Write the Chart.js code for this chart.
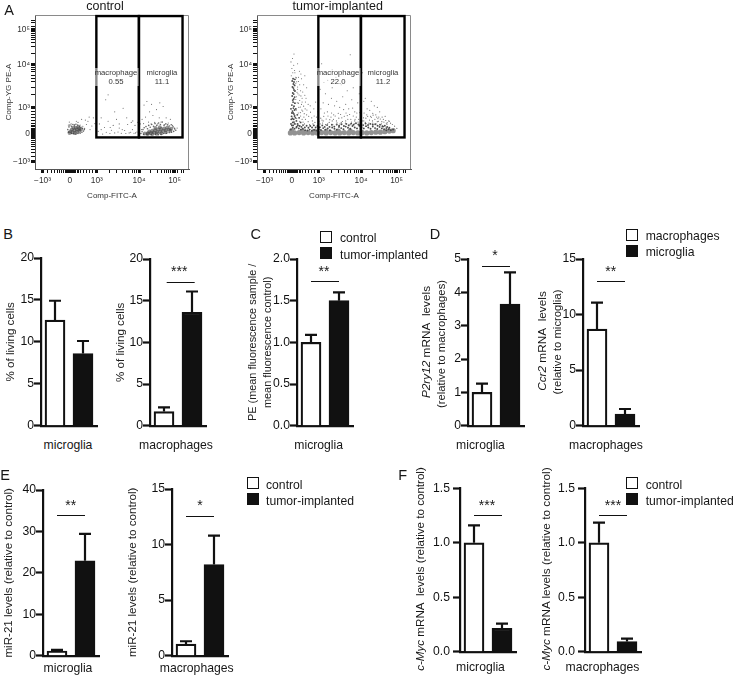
<!DOCTYPE html>
<html>
<head>
<meta charset="utf-8">
<title>Flow cytometry and mRNA panels</title>
<script src="https://cdn.jsdelivr.net/npm/chart.js@4"></script>
<style>
  html, body { margin: 0; padding: 0; background: #fff; }
  #page { position: relative; width: 736px; height: 676px; overflow: hidden; font-family: "Liberation Sans", Arial, sans-serif; color: #151515; }
  canvas { position: absolute; }
  canvas.flow { filter: blur(0.35px); }
  .txt { position: absolute; white-space: nowrap; line-height: 1; opacity: 0.99; }
  .box { position: absolute; width: 10px; height: 10px; border: 1.5px solid #111; background: #fff; }
  .box.dark { background: #111; }
</style>
</head>
<body>
<div id="page"></div>
<script>
// channels on the flow plots (display scale 0-1024)
const flowTicks = [50, 232, 411, 692, 928];
const flowTickLabels = ["−10³", "0", "10³", "10⁴", "10⁵"];
const flowMinor = [85, 110, 130, 150, 165, 178, 190, 200, 206, 212, 218, 224, 238, 244, 250, 256, 262, 270, 280, 292, 305, 320, 340, 360, 385,
  495, 545, 580, 605, 625, 645, 662, 678, 770, 812, 840, 860, 875, 888, 900, 915, 950, 972, 990];
const gateLeft = [408, 691, 210, 1017];
const gateRight = [691, 981, 210, 1017];

const controlDense = [[235,250],[250,245],[265,240],[280,248],[295,252],[245,262],[262,258],[278,262],[295,268],[255,274],[272,275],[288,280],[230,240],[305,262],
  [730,236],[750,238],[770,240],[790,242],[810,245],[830,248],[850,252],[870,258],[890,262],[905,268],[760,250],[780,254],[800,258],[820,262],[840,266],[860,270],[880,276],[800,272],[830,278],[750,232],[780,232],[810,234],[840,238],[870,244],[900,255]];
const controlHalo = [[218,262],[222,245],[226,280],[232,292],[242,284],[252,296],[262,288],[272,298],[284,292],[296,284],[306,278],[316,270],[322,252],[328,262],[312,244],[300,238],[286,236],[272,232],[258,234],[244,236],
  [704,236],[712,248],[718,262],[726,274],[738,282],[748,268],[756,290],[766,278],[776,296],[788,284],[798,302],[810,290],[822,306],[834,296],[846,312],[858,290],[870,300],[882,294],[894,286],[906,294],[918,280],[928,270],[936,258],[922,250],[908,244],[892,242],[874,238],[856,236],[838,230],[820,228],[800,230],[772,228],[744,228],[722,230]];
const controlSparse = [[222,292],[240,300],[262,296],[286,310],[300,292],[318,284],[330,270],[342,296],[352,318],[366,262],[378,286],[388,340],[398,302],[405,268],[360,345],[335,325],[310,330],[275,318],[228,312],[420,250],[428,300],[440,262],[450,232],[462,276],[474,244],[486,318],[498,236],[508,258],[520,290],[530,240],[542,330],[552,246],[560,272],[574,238],[586,404],[596,256],[604,236],[616,296],[626,240],[636,244],[648,262],[658,238],[668,240],[678,246],[684,310],[700,300],[708,262],[712,330],[722,302],[735,345],[744,449],[755,312],[762,380],[772,300],[784,356],[796,310],[808,395],[816,300],[826,340],[838,312],[852,416],[860,296],[872,340],[886,306],[900,330],[915,290],[930,262],[945,272],[725,425],[775,430],[830,440],[486,493],[470,460],[610,340],[650,320],[560,300],[440,340],[530,380],[690,270],[665,290],[640,310],[500,276],[580,262]];

const tumorBand = [[222,240],[250,240],[280,242],[310,240],[340,242],[370,240],[400,240],[430,242],[460,240],[490,242],[520,240],[550,240],[580,242],[610,240],[640,242],[670,240],[700,242],[730,240],[760,242],[790,245],[820,245],[850,248],[880,252],[905,255],[230,256],[300,252],[380,250],[460,250],[540,252],[620,252]];
const tumorDark = [[225,262],[238,275],[250,268],[264,282],[278,270],[292,262],[305,268],[320,258],[335,256],[350,262],[365,254],[380,260],[395,256],[410,265],[425,260],[440,272],[455,262],[470,270],[485,258],[500,276],[515,268],[530,262],[545,280],[560,272],[575,265],[590,282],[605,274],[620,268],[635,286],[650,276],[665,270],[680,288],[695,278],[710,270],[725,285],[740,276],[755,268],[770,282],[785,272],[800,266],[815,280],[830,270],[845,264],[860,272],[875,264],[890,258],[905,262],[880,274],[860,258],[838,282],
  [232,290],[238,310],[244,330],[230,350],[246,365],[236,385],[242,405],[232,425],[240,445],[244,465],[234,485],[238,505],[246,525],[236,545],[242,565],[234,585],[240,600],[250,300],[255,340],[262,320],[268,360],[258,400],[270,300],[280,340],[290,310],
  [240,290],[246,312],[236,336],[250,352],[240,372],[250,392],[246,418],[252,438],[238,458],[250,478],[244,498],[252,518],[242,538],[250,556],[246,578],[252,596],[226,300],[228,330],[232,372],[226,400],
  [262,276],[272,290],[284,286],[296,280],[306,292],[318,276],[330,288],[342,274],[354,286],[366,276],[378,290],[390,276],[402,286],[418,278],[434,290],[450,280],[466,292],[482,280],[498,294],[514,282],[530,296],[546,288],[562,298],[578,286],[594,300],[610,290],[626,302],[642,294],[658,304],[674,296],[690,306],[706,292],[722,302],[738,292],[754,300],[770,294],[786,298],[802,288],[818,294],[834,284],[850,288],[866,280]];
const tumorSparse = [[228,620],[238,640],[250,655],[232,668],[244,690],[226,712],[252,640],[236,735],[246,765],[258,610],[264,580],[270,545],[276,610],[256,520],[262,480],[272,500],[284,455],[250,560],[290,520],[268,440],[278,410],[296,430],[304,385],[288,375],[312,345],[320,400],[300,330],[330,360],[340,315],[350,295],[316,300],[326,470],[340,430],[300,470],[354,420],[364,340],[372,300],[310,560],[296,600],[282,650],[330,540],[318,620],[270,700],
  [420,300],[432,325],[444,350],[456,295],[468,380],[480,310],[492,345],[504,295],[516,420],[528,320],[540,370],[552,300],[564,340],[576,395],[588,305],[600,355],[612,298],[624,330],[636,405],[648,300],[660,345],[672,312],[684,375],[696,300],[708,340],[720,310],[732,400],[744,305],[756,350],[768,320],[780,420],[792,300],[804,335],[816,380],[828,300],[840,330],[852,350],[864,296],[876,320],[888,305],[900,296],[915,285],[930,270],[425,400],[440,440],[455,500],[475,430],[495,470],[510,360],[530,450],[550,410],[570,480],[590,430],[610,400],[630,460],[650,380],[670,440],[690,410],[710,450],[730,360],[750,390],[770,370],[790,360],[810,345],[385,310],[395,345],[405,380],[378,400],[390,445],[408,490],[420,530],[445,575],[470,590],[500,540],[525,610],[560,560],[600,520],[640,540],[680,500],[720,470],[700,640],[620,760],[430,700],[500,660],[760,450],[800,410],[440,320],[470,300],[500,320],[530,295],[560,310],[590,320],[620,295],[650,320],[680,295],[710,320],[740,295],[770,305],[800,315],[830,315],[860,305],
  [256,300],[264,335],[274,372],[282,318],[290,352],[298,392],[306,312],[314,368],[322,330],[332,392],[344,350],[356,378],[368,320],[380,352],[262,392],[276,438],[288,412],[300,446],[310,418],[322,446],[258,462],[266,510],[280,492],[292,486],[304,512],[318,490],[270,530],[258,570],[284,560],[262,606],[276,582],[292,632],
  [412,318],[424,338],[436,306],[448,372],[460,332],[472,352],[484,328],[496,372],[508,330],[520,352],[532,308],[544,338],[556,362],[568,316],[580,350],[592,372],[604,330],[616,362],[628,312],[640,352],[652,330],[664,372],[676,330],[688,352],[700,320],[712,372],[724,338],[736,350],[748,325],[760,342],[772,358],[784,330],[796,345],[808,318],[820,332],[832,345],[844,312],[856,322],[868,308],[880,318]];

// bar panels: first entry is the white bar, second the black one
const groups = ["control", "tumor-implanted"];
const b1Mean = [12.6, 8.6], b1Top = [14.9, 10.1];
const b2Mean = [1.7, 13.6], b2Top = [2.2, 16.1];
const cMean = [1.0, 1.5], cTop = [1.09, 1.6];
const d1Mean = [1.0, 3.65], d1Top = [1.26, 4.6];
const d2Mean = [8.7, 1.04], d2Top = [11.07, 1.5];
const e1Mean = [1.1, 22.9], e1Top = [1.4, 29.4];
const e2Mean = [1.04, 8.2], e2Top = [1.3, 10.8];
const f1Mean = [1.0, 0.215], f1Top = [1.16, 0.257];
const f2Mean = [1.0, 0.0925], f2Top = [1.185, 0.12];

const ticks20 = [0, 5, 10, 15, 20];
const ticks2 = [0, 0.5, 1, 1.5, 2];
const ticks5 = [0, 1, 2, 3, 4, 5];
const ticks15 = [0, 5, 10, 15];
const ticks40 = [0, 10, 20, 30, 40];
const ticks15d = [0, 0.5, 1, 1.5];

const page = document.getElementById("page");
const inkColor = "#111";
const fontFamily = '"Liberation Sans", Arial, sans-serif';

function putText(html, x, y, size, opts) {
  opts = opts || {};
  const el = document.createElement("div");
  el.className = "txt";
  el.innerHTML = html;
  el.style.left = x + "px";
  el.style.top = y + "px";
  el.style.fontSize = size + "px";
  let tf = opts.left ? "translate(0,-50%)" : "translate(-50%,-50%)";
  if (opts.vertical) tf += " rotate(-90deg)";
  el.style.transform = tf;
  if (opts.css) el.style.cssText += opts.css;
  page.appendChild(el);
}

function legendRow(x, y, dark, text, textX, textY) {
  const b = document.createElement("div");
  b.className = dark ? "box dark" : "box";
  b.style.left = x + "px";
  b.style.top = y + "px";
  page.appendChild(b);
  putText(text, textX, textY, 12.2, { left: true });
}

function addCanvas(left, top, w, h, cls) {
  const c = document.createElement("canvas");
  c.width = w;
  c.height = h;
  c.style.left = left + "px";
  c.style.top = top + "px";
  c.style.width = w + "px";
  c.style.height = h + "px";
  if (cls) c.className = cls;
  page.appendChild(c);
  return c.getContext("2d");
}

// error bars + significance line, placed with the chart's own scales
const barExtras = {
  id: "barExtras",
  beforeDatasetsDraw(chart, args, o) {
    const x = chart.scales.x, y = chart.scales.y, g = chart.ctx;
    g.save();
    g.strokeStyle = inkColor;
    g.lineWidth = 2.2;
    o.tops.forEach((top, i) => {
      const px = x.getPixelForValue(i);
      g.beginPath();
      g.moveTo(px, y.getPixelForValue(o.means[i]));
      g.lineTo(px, y.getPixelForValue(top));
      g.moveTo(px - 6, y.getPixelForValue(top));
      g.lineTo(px + 6, y.getPixelForValue(top));
      g.stroke();
    });
    if (o.sig != null) {
      const sy = Math.round(y.getPixelForValue(o.sig)) + 0.5;
      g.lineWidth = 1;
      g.beginPath();
      g.moveTo(x.getPixelForValue(0) + o.sigShift, sy);
      g.lineTo(x.getPixelForValue(1) + o.sigShift, sy);
      g.stroke();
    }
    g.restore();
  },
};

function barPanel(p) {
  const yWidth = 56, plotW = 56, topPad = 10, rightPad = 6, bottomPad = 6;
  const ctx = addCanvas(p.left - yWidth, p.top - topPad, yWidth + plotW + rightPad, p.bottom - p.top + topPad + bottomPad);
  const yAxis = {
    min: p.ticks[0],
    max: p.ticks[p.ticks.length - 1],
    afterBuildTicks: (s) => { s.ticks = p.ticks.map((v) => ({ value: v })); },
    afterFit: (s) => { s.width = yWidth; },
    grid: { drawOnChartArea: false, drawTicks: true, tickLength: 7, tickWidth: 2.2, tickColor: inkColor },
    border: { display: true, color: inkColor, width: 2.2 },
    ticks: {
      color: inkColor, padding: p.tickPad || 0, autoSkip: false,
      font: { family: fontFamily, size: 12.2 },
      callback: (v) => (p.decimals ? v.toFixed(p.decimals) : String(v)),
    },
  };
  if (p.title) {
    const lh = p.titleLine || 13.5;
    yAxis.title = {
      display: true, text: p.title, color: "#222",
      font: { family: fontFamily, size: p.titleSize || 11.6, lineHeight: lh + "px" },
      padding: { top: p.titleX - (p.left - yWidth) - lh / 2, bottom: 0 },
    };
  }
  new Chart(ctx, {
    type: "bar",
    data: {
      labels: groups,
      datasets: [{
        data: p.means,
        backgroundColor: ["#fff", inkColor],
        borderColor: inkColor,
        borderWidth: 2.2,
        borderSkipped: "bottom",
        barThickness: 20,
      }],
    },
    options: {
      responsive: false,
      animation: false,
      layout: { padding: { top: topPad, right: rightPad, left: 0, bottom: 0 } },
      plugins: {
        legend: { display: false },
        tooltip: { enabled: false },
        barExtras: { means: p.means, tops: p.tops, sig: p.sig, sigShift: p.sigShift || 0 },
      },
      scales: {
        x: {
          afterFit: (s) => { s.height = bottomPad; },
          grid: { display: false, drawTicks: false },
          border: { display: true, color: inkColor, width: 2.2 },
          ticks: { display: false },
        },
        y: yAxis,
      },
    },
    plugins: [barExtras],
  });
}

// gray frame and black gates on the flow plots
const flowGates = {
  id: "flowGates",
  beforeDatasetsDraw(chart) {
    const a = chart.chartArea, g = chart.ctx;
    g.save();
    g.strokeStyle = "#8a8a8a";
    g.lineWidth = 1;
    g.beginPath();
    g.moveTo(a.left, a.top + 0.5);
    g.lineTo(a.right - 0.5, a.top + 0.5);
    g.lineTo(a.right - 0.5, a.bottom);
    g.stroke();
    g.restore();
  },
  afterDatasetsDraw(chart) {
    const x = chart.scales.x, y = chart.scales.y, g = chart.ctx;
    g.save();
    g.strokeStyle = "#000";
    g.lineWidth = 2.4;
    [gateLeft, gateRight].forEach((r) => {
      g.strokeRect(x.getPixelForValue(r[0]), y.getPixelForValue(r[3]),
        x.getPixelForValue(r[1]) - x.getPixelForValue(r[0]), y.getPixelForValue(r[2]) - y.getPixelForValue(r[3]));
    });
    g.restore();
  },
};

function flowAxis(fit, titleText, titleOpts) {
  return {
    min: 0,
    max: 1024,
    afterBuildTicks: (s) => { s.ticks = flowTicks.concat(flowMinor).map((v) => ({ value: v })); },
    afterFit: fit,
    grid: {
      drawOnChartArea: false, drawTicks: true, tickLength: 4, tickColor: "#111",
      tickWidth: (c) => (flowTicks.includes(c.tick.value) ? 3 : 1),
    },
    border: { display: true, color: "#555", width: 1 },
    ticks: {
      autoSkip: false, maxRotation: 0, color: "#333", padding: titleOpts.tickPad,
      font: { family: fontFamily, size: 8.4 },
      callback: (v) => { const i = flowTicks.indexOf(v); return i < 0 ? "" : flowTickLabels[i]; },
    },
    title: {
      display: true, text: titleText, color: "#333",
      font: { family: fontFamily, size: 8, lineHeight: "9px" },
      padding: titleOpts.padding,
    },
  };
}

function flowPanel(canvasLeft, datasets) {
  const ctx = addCanvas(canvasLeft, 0, 200, 205, "flow");
  new Chart(ctx, {
    type: "scatter",
    data: { datasets: datasets },
    options: {
      responsive: false,
      animation: false,
      layout: { padding: { top: 15, right: 11, left: 0, bottom: 0 } },
      plugins: { legend: { display: false }, tooltip: { enabled: false } },
      scales: {
        x: flowAxis((s) => { s.height = 36; }, "Comp-FITC-A", { tickPad: 3, padding: { top: 0, bottom: 5 } }),
        y: flowAxis((s) => { s.width = 35; }, "Comp-YG PE-A", { tickPad: 1, padding: { top: 4.5, bottom: 0 } }),
      },
    },
    plugins: [flowGates],
  });
}

function dots(data, r, color) {
  return { data: data, pointRadius: r, pointBackgroundColor: color, pointBorderWidth: 0, showLine: false };
}

flowPanel(0, [dots(controlSparse, 0.55, "#666"), dots(controlDense, 2, "rgba(60,60,60,0.55)"), dots(controlHalo, 0.8, "#666")]);
flowPanel(222, [dots(tumorSparse, 0.55, "#666"), dots(tumorDark, 0.95, "#4a4a4a"), dots(tumorBand, 2.6, "#929292")]);

const halo = "background:rgba(255,255,255,0.55);text-align:center;line-height:9px;padding:0 1px;color:#333;";
putText("macrophage<br>0.55", 116, 77, 7.7, { css: halo });
putText("microglia<br>11.1", 162, 77, 7.7, { css: halo });
putText("macrophage<br>22.0", 338, 77, 7.7, { css: halo });
putText("microglia<br>11.2", 383, 77, 7.7, { css: halo });
putText("control", 105, 6, 12.5);
putText("tumor-implanted", 337.7, 6, 12.5);

barPanel({ left: 41, top: 258, bottom: 427, ticks: ticks20, means: b1Mean, tops: b1Top, title: "% of living cells", titleX: 10.7 });
barPanel({ left: 150, top: 259, bottom: 427, ticks: ticks20, means: b2Mean, tops: b2Top, sig: 17.3, sigShift: 2.7, title: "% of living cells", titleX: 120.7 });
barPanel({ left: 297, top: 259, bottom: 427, ticks: ticks2, decimals: 1, means: cMean, tops: cTop, sig: 1.737,
  title: ["PE (mean fluorescence sample /", "mean fluorescence control)"], titleX: 252.7, titleLine: 15.5, titleSize: 10.9 });
barPanel({ left: 468, top: 259, bottom: 427, ticks: ticks5, means: d1Mean, tops: d1Top, sig: 4.8 });
barPanel({ left: 583, top: 259, bottom: 427, ticks: ticks15, means: d2Mean, tops: d2Top, sig: 13 });
barPanel({ left: 43, top: 490, bottom: 657, ticks: ticks40, means: e1Mean, tops: e1Top, sig: 33.9, title: "miR-21 levels (relative to control)", titleX: 9 });
barPanel({ left: 172, top: 489, bottom: 657, ticks: ticks15, means: e2Mean, tops: e2Top, sig: 12.6, title: "miR-21 levels (relative to control)", titleX: 133 });
barPanel({ left: 460, top: 488, bottom: 656, ticks: ticks15d, decimals: 1, tickPad: 3, means: f1Mean, tops: f1Top, sig: 1.257 });
barPanel({ left: 585, top: 488, bottom: 656, ticks: ticks15d, decimals: 1, tickPad: 3, means: f2Mean, tops: f2Top, sig: 1.257 });

// y titles with italic gene names
putText("<i>P2ry12</i> mRNA&nbsp; levels", 427, 342, 11.8, { vertical: true });
putText("(relative to macrophages)", 442, 344, 11.3, { vertical: true });
putText("<i>Ccr2</i> mRNA&nbsp; levels", 543, 341, 11.8, { vertical: true });
putText("(relative to microglia)", 558, 342, 11.3, { vertical: true });
putText("<i>c-Myc</i> mRNA&nbsp; levels (relative to control)", 420, 569, 11.6, { vertical: true });
putText("<i>c-Myc</i> mRNA levels (relative to control)", 546.7, 569, 11.8, { vertical: true });

// group names under the bars
putText("microglia", 68, 445, 12.2);
putText("macrophages", 176, 445, 12.2);
putText("microglia", 318.7, 445, 12.2);
putText("microglia", 480.5, 445, 12.2);
putText("macrophages", 606, 445, 12.2);
putText("microglia", 68, 668, 12.2);
putText("macrophages", 196.7, 668, 12.2);
putText("microglia", 480.5, 667, 12.2);
putText("macrophages", 602.5, 667, 12.2);

// stars
putText("***", 179.3, 271, 14);
putText("**", 324, 271, 14);
putText("*", 495, 255, 14);
putText("**", 610.7, 271, 14);
putText("**", 70.7, 505, 14);
putText("*", 200, 505, 14);
putText("***", 487, 505, 14);
putText("***", 613, 505, 14);

// panel letters
putText("A", 9, 10, 14.5);
putText("B", 8, 234, 14.5);
putText("C", 255.7, 234, 14.5);
putText("D", 435, 234, 14.5);
putText("E", 5, 475, 14.5);
putText("F", 402.7, 475, 14.5);

// legends
legendRow(320, 231, false, "control", 340, 238);
legendRow(320, 247, true, "tumor-implanted", 340, 254.5);
legendRow(626, 229, false, "macrophages", 645.7, 235.7);
legendRow(626, 245, true, "microglia", 645.7, 252.3);
legendRow(247, 477, false, "control", 266, 484.7);
legendRow(247, 493, true, "tumor-implanted", 266, 501);
legendRow(626, 477, false, "control", 645.7, 484.7);
legendRow(626, 493, true, "tumor-implanted", 645.7, 501);
</script>
</body>
</html>
